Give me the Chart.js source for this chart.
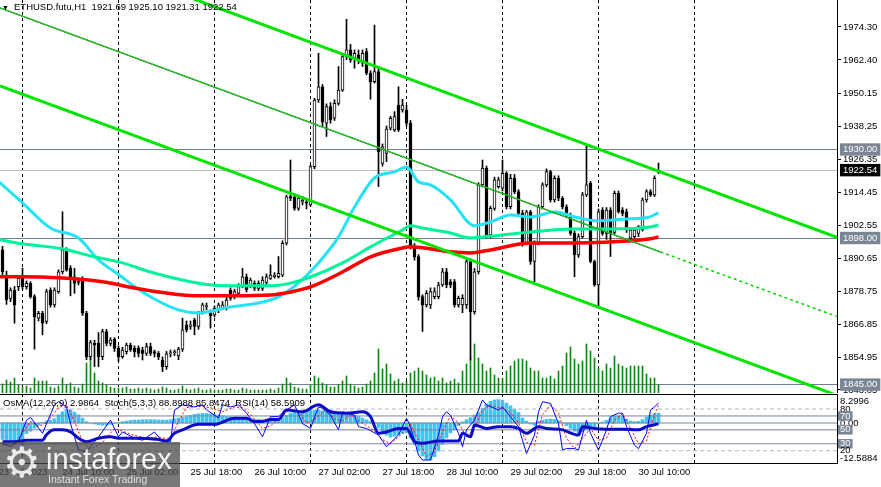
<!DOCTYPE html>
<html>
<head>
<meta charset="utf-8">
<title>ETHUSD.futu H1</title>
<script src="https://cdn.jsdelivr.net/npm/chart.js"></script>
<style>
  html, body { margin:0; padding:0; background:#fff; }
  body { width:881px; height:487px; position:relative; overflow:hidden; font-family:"Liberation Sans", Arial, sans-serif; }
  canvas { position:absolute; left:0; }
  #cMain { top:0; }
  #cInd { top:380px; }
  .txt { position:absolute; font-size:9.5px; color:#000; white-space:pre; line-height:12px; }
  #hdr { left:2px; top:1px; }
  #hdr .tri { font-size:7px; display:inline-block; width:12px; }
  #indHdr { left:3px; top:397px; }
  #wm { position:absolute; left:0; top:442px; width:180px; height:45px; background:rgba(72,72,72,0.74); overflow:hidden; }
  #gear { position:absolute; left:3px; top:-7px; font-family:"DejaVu Sans", sans-serif; font-size:42px; line-height:56px; color:rgba(255,255,255,0.85); }
  #wm1 { position:absolute; left:46px; top:1px; font-size:29px; line-height:32px; color:rgba(255,255,255,0.92); white-space:nowrap; }
  #wm2 { position:absolute; left:48px; top:31px; font-size:10.5px; line-height:12px; color:rgba(235,235,235,0.9); white-space:nowrap; }
</style>
</head>
<body>
<canvas id="cMain" width="881" height="393"></canvas>
<canvas id="cInd" width="881" height="107"></canvas>
<div id="hdr" class="txt"><span class="tri">▼</span>ETHUSD.futu,H1  1921.69 1925.10 1921.31 1922.54</div>
<div id="indHdr" class="txt">OsMA(12,26,9) 2.9864  Stoch(5,3,3) 88.8988 85.8474  RSI(14) 58.5909</div>
<div id="wm"><div id="gear">⚙</div><div id="wm1">instaforex</div><div id="wm2">Instant Forex Trading</div></div>
<script>
// ---------------- DATA ----------------
// hours counted from 24 Jul 2023 00:00; first visible H1 bar = 23 Jul 19:00
const firstBarHour = -5;

const opens = [
  1893.7,1884.0,1876.2,1879.2,1880.4,1884.6,1880.4,1881.6,1876.8,1869.0,
  1870.8,1867.8,1879.2,1873.8,1878.6,1885.8,1893.9,1887.0,1884.0,1882.2,
  1883.4,1870.8,1855.1,1859.9,1859.9,1855.1,1864.2,1859.9,1861.4,1858.1,
  1855.1,1856.9,1859.3,1858.1,1858.1,1857.5,1856.3,1858.7,1856.9,1856.3,
  1853.9,1851.5,1856.1,1856.5,1855.4,1857.8,1866.6,1866.0,1868.4,1866.0,
  1871.4,1873.2,1870.8,1870.2,1872.0,1872.6,1872.6,1879.2,1876.8,1878.0,
  1880.4,1884.0,1880.4,1881.6,1879.8,1879.8,1881.9,1883.4,1884.0,1884.0,
  1884.6,1896.1,1913.0,1912.9,1908.7,1911.1,1910.8,1910.0,1923.8,1947.9,
  1952.7,1939.5,1945.5,1941.3,1946.7,1951.5,1963.6,1966.0,1963.0,1964.2,
  1961.2,1965.4,1957.6,1954.5,1958.2,1925.0,1928.6,1937.7,1937.1,1946.1,
  1944.3,1944.3,1939.5,1894.9,1891.3,1876.8,1873.8,1873.8,1876.8,1876.8,
  1881.0,1885.8,1882.2,1882.2,1873.8,1873.8,1873.8,1889.5,1871.4,1885.8,
  1917.2,1923.2,1899.1,1908.7,1916.6,1916.0,1921.4,1909.3,1919.6,1914.8,
  1906.9,1896.1,1907.5,1889.5,1896.1,1909.3,1917.2,1922.0,1911.8,1919.6,
  1912.4,1909.3,1906.3,1899.7,1891.9,1898.5,1913.6,1917.8,1889.5,1881.0,
  1908.1,1899.7,1908.1,1900.0,1914.2,1908.1,1907.5,1897.9,1898.5,1899.7,
  1900.9,1911.8,1914.8,1913.6,1921.69
];
const highs = [
  1895.0,1886.0,1880.0,1880.5,1884.5,1887.1,1882.5,1882.2,1877.5,1871.5,
  1871.5,1879.5,1880.0,1880.0,1886.5,1907.5,1894.5,1888.0,1887.0,1883.0,
  1884.0,1871.5,1861.0,1861.0,1863.8,1865.0,1865.0,1862.0,1862.0,1859.0,
  1858.5,1860.0,1860.0,1859.0,1859.0,1858.5,1860.0,1860.0,1857.5,1857.0,
  1855.0,1857.0,1857.5,1857.5,1858.5,1869.0,1868.0,1868.0,1869.0,1871.5,
  1874.5,1874.5,1872.0,1873.5,1874.5,1875.0,1876.5,1880.0,1879.5,1881.5,
  1887.0,1885.0,1883.5,1882.5,1882.5,1884.0,1885.0,1888.3,1885.5,1891.3,
  1897.0,1913.5,1926.2,1914.0,1913.5,1913.0,1912.0,1924.5,1948.5,1964.8,
  1953.5,1946.5,1947.0,1948.0,1960.0,1964.5,1977.1,1968.0,1966.0,1966.0,
  1966.0,1966.5,1958.5,1975.0,1959.0,1932.0,1938.5,1942.0,1943.7,1952.7,
  1948.2,1946.0,1940.5,1896.0,1892.0,1877.5,1879.0,1880.0,1880.0,1882.0,
  1887.0,1887.0,1883.0,1883.0,1877.0,1877.5,1890.5,1890.5,1887.0,1918.0,
  1926.2,1924.0,1909.5,1920.0,1920.0,1926.2,1922.0,1921.0,1921.0,1915.5,
  1908.0,1908.0,1908.0,1897.0,1910.0,1918.0,1923.0,1922.5,1920.5,1920.5,
  1913.0,1910.0,1907.0,1900.5,1899.5,1914.5,1931.6,1918.5,1890.0,1908.5,
  1909.0,1909.0,1909.0,1915.0,1915.0,1909.0,1908.5,1901.5,1901.5,1902.5,
  1912.5,1915.5,1915.5,1920.5,1925.10
];
const lows = [
  1884.0,1874.0,1875.0,1867.2,1879.0,1879.5,1879.5,1876.2,1857.8,1868.0,
  1863.0,1867.0,1873.0,1873.0,1878.0,1885.0,1886.0,1877.1,1878.0,1881.0,
  1870.0,1854.0,1854.0,1851.5,1851.5,1854.0,1859.0,1859.0,1857.0,1853.5,
  1854.5,1856.0,1857.0,1855.0,1855.0,1853.9,1855.5,1855.5,1855.0,1854.0,
  1849.7,1850.5,1855.0,1855.5,1854.0,1857.0,1864.0,1865.0,1863.0,1865.0,
  1870.5,1872.0,1865.4,1869.5,1871.0,1872.0,1872.0,1875.5,1876.0,1877.5,
  1880.0,1878.5,1880.0,1879.0,1879.0,1879.0,1881.0,1883.0,1883.5,1883.5,
  1884.0,1895.5,1911.5,1908.0,1908.0,1910.0,1908.5,1909.5,1923.0,1947.0,
  1938.3,1934.7,1939.5,1940.5,1946.0,1951.0,1962.5,1961.5,1959.4,1961.0,
  1960.0,1957.0,1948.2,1954.0,1916.6,1924.0,1925.6,1937.0,1936.5,1936.5,
  1943.5,1938.5,1894.0,1890.0,1875.5,1864.2,1873.0,1872.5,1876.0,1876.0,
  1880.5,1880.0,1880.0,1873.0,1873.0,1871.0,1872.5,1853.9,1870.5,1885.0,
  1916.5,1898.0,1898.0,1908.0,1916.0,1915.0,1908.5,1908.5,1914.0,1906.0,
  1895.0,1895.5,1888.5,1882.2,1895.5,1908.5,1916.5,1911.0,1911.0,1911.5,
  1908.5,1905.5,1899.0,1884.0,1891.0,1898.0,1913.0,1889.0,1880.5,1873.2,
  1899.0,1897.5,1891.3,1899.5,1907.0,1906.0,1900.0,1897.0,1898.0,1898.5,
  1900.5,1911.0,1913.0,1913.0,1921.31
];
const closes = [
  1885.8,1875.6,1879.2,1873.8,1883.4,1880.4,1881.6,1876.8,1869.6,1870.8,
  1867.2,1878.6,1873.8,1879.2,1885.8,1893.7,1886.4,1884.0,1881.6,1881.9,
  1870.8,1855.1,1860.2,1859.3,1855.1,1864.2,1859.9,1861.1,1858.1,1855.1,
  1857.5,1859.3,1857.5,1856.9,1856.3,1856.3,1858.7,1856.3,1856.3,1855.1,
  1851.5,1856.1,1856.5,1856.9,1857.8,1864.8,1864.8,1866.6,1866.0,1870.8,
  1873.8,1873.6,1869.8,1872.6,1873.8,1873.8,1875.6,1876.2,1878.6,1880.4,
  1884.0,1879.2,1882.8,1879.8,1881.6,1882.8,1884.0,1884.6,1884.6,1885.2,
  1896.1,1912.9,1912.4,1908.7,1912.4,1911.6,1910.6,1923.8,1947.9,1952.7,
  1940.1,1945.5,1940.7,1946.7,1951.5,1963.6,1966.0,1962.4,1964.8,1962.4,
  1964.8,1957.6,1954.5,1958.2,1929.2,1931.0,1937.4,1941.3,1941.9,1937.1,
  1946.1,1939.5,1894.9,1891.2,1876.8,1873.8,1878.0,1878.6,1878.6,1881.0,
  1885.8,1881.0,1881.0,1873.8,1876.2,1876.2,1889.5,1871.4,1885.8,1917.2,
  1923.2,1899.1,1908.7,1919.0,1919.0,1921.4,1909.3,1919.6,1914.8,1906.9,
  1896.1,1907.5,1889.5,1896.1,1909.3,1917.2,1922.0,1911.8,1919.6,1912.4,
  1909.3,1906.3,1899.7,1891.9,1898.5,1913.6,1917.2,1889.5,1881.0,1907.5,
  1899.7,1908.1,1899.7,1914.2,1907.5,1906.9,1900.9,1900.9,1900.9,1902.1,
  1911.8,1914.8,1913.6,1919.6,1922.54
];
const volumes = [
  225,325,275,375,200,150,175,125,375,300,
  300,300,150,125,175,375,200,250,150,125,
  225,750,875,500,300,250,200,150,125,125,
  125,150,100,100,125,100,125,100,75,100,
  150,125,75,75,100,175,100,75,100,125,
  75,75,100,75,75,75,100,100,75,75,
  125,100,75,75,75,75,75,100,75,125,
  225,375,250,150,125,100,100,200,425,375,
  250,200,150,150,200,300,425,225,175,125,
  150,225,300,500,1100,600,725,475,300,350,
  250,300,500,550,625,550,450,375,400,300,
  375,250,300,350,250,550,725,875,1225,875,
  725,550,625,450,375,350,550,675,800,850,
  850,800,625,550,550,375,375,425,350,550,
  675,1000,1150,850,725,800,1225,1050,875,600,
  550,725,625,925,725,675,625,675,675,675,
  675,475,375,375,200
];
const osma = [
  -5.0,-5.6,-5.8,-5.6,-5.3,-5.0,-3.2,-2.5,-1.6,-0.6,
  0.2,0.6,0.9,1.3,2.5,3.4,4.1,4.0,3.3,2.5,
  1.5,0.4,0.0,-0.3,-0.5,-0.7,-0.6,-0.4,-0.1,0.1,
  0.4,0.6,0.8,0.9,0.9,1.0,1.0,1.0,1.0,0.9,
  0.9,0.9,1.0,1.3,1.5,1.7,1.9,2.3,2.6,2.8,
  2.9,2.9,2.8,2.6,2.4,2.2,2.0,1.9,1.8,1.7,
  1.6,1.5,1.3,1.2,1.1,1.0,1.0,1.0,1.1,1.2,
  1.6,2.3,3.0,3.3,3.4,3.5,3.6,3.8,3.9,4.0,
  3.7,3.4,3.2,3.0,3.0,3.0,3.0,2.8,2.4,2.0,
  1.5,1.0,0.5,0.0,-1.5,-2.8,-3.7,-4.3,-4.0,-3.6,
  -3.2,-2.9,-4.5,-6.5,-8.5,-10.0,-11.0,-11.2,-10.2,-8.5,
  -6.5,-4.5,-3.0,-2.0,-0.8,0.3,1.0,1.6,2.4,3.2,
  4.5,5.8,6.6,7.0,7.1,6.8,6.0,5.2,4.2,3.2,
  1.5,0.6,-0.3,-0.7,0.5,0.9,1.1,1.2,1.1,0.7,
  -0.1,-0.8,-1.6,-2.5,-3.0,-2.6,-2.0,-1.6,-1.5,-0.2,
  0.3,0.8,1.5,2.0,2.2,2.0,1.2,0.6,0.4,0.5,
  1.0,1.8,2.4,2.8,2.9864
];

// moving averages read at key bars [hour, price]
const maSlow = [[-6,1884.0],[0,1884.0],[10,1883.5],[20,1882.2],[28,1879.9],[35,1878.3],[44,1877.1],[52,1877.1],[62,1877.4],[67,1878.5],[72,1880.3],[80,1885.7],[87,1891.2],[95,1894.4],[97,1894.8],[107,1893.0],[112,1892.6],[117,1893.7],[127,1896.2],[137,1896.2],[147,1896.6],[157,1897.7],[159,1898.4]];
const maMid = [[-6,1897.5],[0,1895.9],[10,1894.1],[17,1891.5],[25,1889.0],[32,1885.7],[40,1882.8],[45,1881.4],[52,1880.7],[62,1880.7],[67,1881.7],[72,1883.9],[80,1889.0],[87,1894.8],[95,1900.9],[97,1902.4],[100,1901.6],[107,1899.8],[112,1898.0],[117,1898.7],[127,1900.2],[137,1901.3],[147,1901.3],[157,1902.0],[159,1902.7]];
const maFast = [[-6,1918.5],[0,1910.7],[7,1901.6],[14,1898.0],[19,1890.1],[24,1884.8],[30,1878.5],[39,1872.0],[44,1870.9],[52,1873.1],[59,1874.5],[64,1876.7],[69,1881.8],[74,1889.0],[79,1898.4],[83,1909.2],[88,1919.7],[93,1921.9],[96,1923.7],[99,1918.3],[102,1917.2],[107,1911.8],[113,1902.4],[117,1903.8],[122,1906.3],[127,1905.6],[133,1907.4],[139,1905.3],[144,1904.2],[151,1904.9],[156,1905.3],[159,1907.1]];

// trend lines: anchor points [hour, price]
const upperChannel = [[40,1985.95],[204,1898.0]];
const lowerChannel = [[-5.6,1953.0],[204,1840.9]];
const midLine = [[-5.6,1981.2],[159.5,1892.96]];
const midLineExt = [[159.5,1892.96],[204,1869.4]];

// horizontal price levels
const levelPrices = [1930.00, 1922.54, 1898.00, 1845.00];
const levelLineColors = ['#6f7f90', '#c0c0c0', '#6f7f90', '#6f7f90'];
const levelBoxColors = ['#7b8694', '#000000', '#7b8694', '#7b8694'];

// price axis tick labels
const priceTickLabels = ['1974.30','1962.40','1950.15','1938.25','1926.35','1914.45','1902.55','1890.65','1878.75','1866.85','1854.95','1843.05'];

// time axis
const timeLabels = ['23 Jul 2023','24 Jul 10:00','25 Jul 02:00','25 Jul 18:00','26 Jul 10:00','27 Jul 02:00','27 Jul 18:00','28 Jul 10:00','29 Jul 02:00','29 Jul 18:00','30 Jul 10:00'];
const timeLabelHours = [-6,10,26,42,58,74,90,106,122,138,154];
const dayStartHours = [0,24,48,72,96,120,144,168];

// oscillators [hour, value]
const stochMain = [[-5,30.6],[-3,26],[-1,33],[1,64],[2,68],[5,45],[8,86],[9,90.5],[11,83],[12,59],[14,21],[16,18.6],[19,40],[22,64],[24,40],[25,47],[28,38],[30,35],[33,47],[35,33],[37,33],[38,78.6],[40,86],[43,83],[45,86],[46,79],[49,67],[50,86],[52,83],[54,86],[56,74],[58,59],[60,40],[62,69],[64,69],[66,78.6],[68,86],[70,59],[72,52],[74,83],[75,81],[77,71],[79,50],[80,76],[83,71],[84,54.6],[86,52],[89,42.6],[91,25.8],[94,42.6],[96,66.6],[97,54.6],[99,13.8],[100,6.6],[102,6.6],[104,42.6],[105,69],[106,76],[107,71],[109,45],[110,25.8],[111,50],[113,64],[114,78.6],[115,93],[116,86],[119,78.6],[120,83],[122,69],[124,54.6],[125,35],[126,16],[128,42.6],[129,76],[130,90.5],[132,88],[134,59],[135,21],[136,23],[138,23],[139,21],[141,64],[142,45],[144,21],[146,50],[147,69],[149,74],[150,74],[151,54.6],[153,28],[154,23],[156,45],[157,78.6],[158,83],[159,88.8988]];
const stochSignal = [[-5,28],[-2,28],[0,45],[2,62],[4,55],[6,60],[9,82],[11,86],[13,62],[15,33],[17,22],[20,32],[23,52],[25,48],[28,42],[31,38],[34,40],[37,36],[39,62],[41,82],[44,84],[47,82],[50,76],[53,83],[55,82],[57,72],[60,52],[62,56],[65,70],[67,80],[69,76],[71,60],[73,65],[76,80],[78,66],[80,63],[82,72],[85,60],[88,48],[90,36],[92,30],[95,45],[97,58],[99,35],[101,12],[103,18],[105,48],[107,70],[109,60],[111,40],[113,52],[115,78],[117,86],[120,80],[122,75],[124,60],[126,32],[128,28],[130,72],[132,86],[134,74],[136,38],[138,23],[140,38],[142,52],[144,35],[146,38],[148,64],[150,73],[152,52],[154,30],[156,34],[158,72],[159,85.8474]];
const rsi = [[-5,33],[-2,33],[1,35],[5,35],[6,43],[8,50],[10,50],[12,47],[14,38],[16,33],[19,38],[22,40],[24,38],[29,38],[34,36],[36,34],[38,45],[40,50],[44,58],[48,58],[53,66.6],[56,66.6],[58,62],[60,62],[62,65],[64,65],[66,78.6],[70,76],[74,86],[77,76],[81,74],[85,76],[87,69],[89,45],[91,47],[94,52],[96,52],[98,33],[100,30.6],[104,34],[109,34],[110,45],[112,40],[113,57],[116,52],[119,54.6],[122,54.6],[124,52],[126,45],[129,54.6],[131,52],[135,50],[139,42.6],[140,54.6],[143,52],[146,51],[150,51],[154,50],[156,54.6],[159,58.5909]];

const stochLevels = [80, 70, 50, 30, 20];
const stochLevelBoxed = [false, true, true, true, false];
const osmaTickValues = [8.2996, 0, -12.5884];
const osmaTickText = [['', '8.2996'], '0.00', ['-12.5884', '']];

// ---------------- VIEW ----------------
const FONT = "'Liberation Sans', Arial, sans-serif";
Chart.defaults.font.family = FONT;
Chart.defaults.font.size = 9.5;
Chart.defaults.color = '#000';
Chart.defaults.animation = false;
Chart.defaults.elements.point.radius = 0;
Chart.defaults.elements.line.fill = false;

const hourMin = -5.625, hourMax = 203.625;
const priceMin = 1841.96, priceMax = 1984.06;
const volMax = 9825;
const stochMin = 2.3, stochMax = 101.6;
const osmaMin = -12.12, osmaMax = 8.79;
const CLEAR = 'rgba(0,0,0,0)';

const barX = opens.map((_, i) => firstBarHour + i);
const pts = arr => arr.map(([x, y]) => ({x, y}));
const wickData = barX.map((x, i) => ({x, y: [lows[i], highs[i]]}));
const bodyData = barX.map((x, i) => ({x, y: [opens[i], closes[i]]}));
const bodyColors = opens.map((o, i) => closes[i] >= o ? '#ffffff' : '#000000');
const volData = barX.map((x, i) => ({x, y: volumes[i]}));
const osmaData = barX.map((x, i) => ({x, y: osma[i]}));
const hLine = (v) => [{x: hourMin, y: v}, {x: hourMax, y: v}];

const noPad = s => { s.paddingLeft = 0; s.paddingRight = 0; s.paddingTop = 0; s.paddingBottom = 0; };
const lineDs = (data, color, width, order, extra) => Object.assign({
  type: 'line', data, borderColor: color, borderWidth: width, pointRadius: 0, order,
  cubicInterpolationMode: 'monotone'
}, extra || {});

// main price chart
new Chart(document.getElementById('cMain'), {
  type: 'bar',
  data: { datasets: [
    lineDs(pts(upperChannel), '#00e400', 3, 0),
    lineDs(pts(lowerChannel), '#00e400', 3, 0),
    lineDs(pts(midLine), '#22cc22', 1.4, 0),
    lineDs(pts(midLine), '#000000', 1.1, 0),
    lineDs(pts(midLineExt), '#00d800', 1.5, 0, {borderDash: [3, 3]}),
    lineDs(pts(maSlow), '#ff0000', 3.5, 1),
    lineDs(pts(maMid), '#00f39a', 3, 2),
    lineDs(pts(maFast), '#25e3f3', 3, 2),
    { type: 'bar', data: bodyData, backgroundColor: bodyColors, borderColor: '#000', borderWidth: 1,
      borderSkipped: false, barThickness: 3, minBarLength: 1, grouped: false, order: 4 },
    { type: 'bar', data: wickData, backgroundColor: '#000', borderWidth: 0, barThickness: 1, grouped: false, order: 5 },
    { type: 'bar', data: volData, yAxisID: 'yVol', backgroundColor: '#0a8a0a', borderWidth: 0, barThickness: 1, grouped: false, order: 6 }
  ]},
  options: {
    responsive: false, animation: false,
    layout: { padding: 0 },
    plugins: { legend: { display: false }, tooltip: { enabled: false } },
    scales: {
      x: {
        type: 'linear', min: hourMin, max: hourMax, offset: false, bounds: 'data',
        afterBuildTicks: s => { s.ticks = dayStartHours.map(v => ({value: v})); },
        afterFit: s => { noPad(s); s.height = 0; },
        ticks: { display: false },
        grid: { color: '#000', lineWidth: 1, drawTicks: false, offset: false, borderDash: [3, 3] },
        border: { display: false, dash: [3, 3] }
      },
      y: {
        position: 'right', min: priceMin, max: priceMax, bounds: 'data',
        afterBuildTicks: s => { s.ticks = priceTickLabels.map(parseFloat).concat(levelPrices).map(v => ({value: v})); },
        afterFit: s => { noPad(s); s.width = 44; },
        ticks: {
          autoSkip: false, padding: 2,
          callback: (v, i) => i < priceTickLabels.length ? priceTickLabels[i] : levelPrices[i - priceTickLabels.length].toFixed(2),
          color: ctx => ctx.index >= priceTickLabels.length ? '#ffffff' : '#000000',
          showLabelBackdrop: ctx => ctx.index >= priceTickLabels.length,
          backdropColor: ctx => ctx.index >= priceTickLabels.length ? levelBoxColors[ctx.index - priceTickLabels.length] : CLEAR,
          backdropPadding: { x: 3, y: 0.5 }
        },
        grid: {
          color: ctx => ctx.index >= priceTickLabels.length ? levelLineColors[ctx.index - priceTickLabels.length] : CLEAR,
          lineWidth: 1, drawTicks: true, tickLength: 4,
          tickColor: ctx => ctx.index >= priceTickLabels.length ? CLEAR : '#000'
        },
        border: { display: true, color: '#000', width: 1 }
      },
      yVol: { display: false, min: 0, max: volMax, position: 'right', afterFit: s => { noPad(s); s.width = 0; } }
    }
  }
});

// indicator window: OsMA labels are placed on the oscillator axis at the height of their OsMA value
const osmaAsStoch = v => stochMin + (v - osmaMin) / (osmaMax - osmaMin) * (stochMax - stochMin);
const indTickValues = osmaTickValues.map(osmaAsStoch).concat(stochLevels);
const indTickText = osmaTickText.concat(stochLevels.map(String));
const indBoxed = osmaTickValues.map(() => false).concat(stochLevelBoxed);

const allTimeTicks = timeLabelHours.concat(dayStartHours).sort((a, b) => a - b);
const levelDatasets = stochLevels.map((v, i) => lineDs(hLine(v), stochLevelBoxed[i] ? '#7b8694' : '#b8b8b8', 1, 3,
  { yAxisID: 'yS', borderDash: stochLevelBoxed[i] ? [] : [4, 3], cubicInterpolationMode: 'default', tension: 0 }));

new Chart(document.getElementById('cInd'), {
  type: 'bar',
  data: { datasets: [
    lineDs(pts(rsi), '#0c0cc8', 3, 0, { yAxisID: 'yS' }),
    lineDs(pts(stochMain), '#0000ff', 1, 1, { yAxisID: 'yS', cubicInterpolationMode: 'default', tension: 0 }),
    lineDs(pts(stochSignal), '#ff0000', 1, 2, { yAxisID: 'yS', borderDash: [2, 2], cubicInterpolationMode: 'default', tension: 0 }),
    ...levelDatasets,
    lineDs(hLine(0), '#7b8694', 1, 3, { yAxisID: 'yO', tension: 0 }),
    { type: 'bar', data: osmaData, yAxisID: 'yO', backgroundColor: '#41c3f3', borderWidth: 0, barThickness: 3, grouped: false, order: 5 }
  ]},
  options: {
    responsive: false, animation: false,
    layout: { padding: { top: 14, left: 0, right: 0, bottom: 0 } },
    plugins: { legend: { display: false }, tooltip: { enabled: false } },
    scales: {
      x: {
        type: 'linear', position: 'bottom', min: hourMin, max: hourMax, offset: false, bounds: 'data',
        afterBuildTicks: s => { s.ticks = allTimeTicks.map(v => ({value: v})); },
        afterFit: s => { noPad(s); s.height = 24; },
        ticks: {
          autoSkip: false, maxRotation: 0, minRotation: 0, align: 'start', padding: 4,
          callback: v => { const k = timeLabelHours.indexOf(v); return k >= 0 ? timeLabels[k] : ''; }
        },
        grid: { color: ctx => (ctx.tick && dayStartHours.includes(ctx.tick.value)) ? '#000' : CLEAR,
                lineWidth: 1, drawTicks: false, offset: false, borderDash: [3, 3] },
        border: { display: true, color: '#000', width: 1, dash: [3, 3] }
      },
      xTop: {
        type: 'linear', position: 'top', min: hourMin, max: hourMax, offset: false,
        afterFit: s => { noPad(s); s.height = 0; },
        ticks: { display: false },
        grid: { display: false, drawTicks: false },
        border: { display: true, color: '#000', width: 1 }
      },
      yO: { display: false, position: 'right', min: osmaMin, max: osmaMax, afterFit: s => { noPad(s); s.width = 0; } },
      yS: {
        position: 'right', min: stochMin, max: stochMax, bounds: 'data',
        afterBuildTicks: s => { s.ticks = indTickValues.map(v => ({value: v})); },
        afterFit: s => { noPad(s); s.width = 44; },
        ticks: {
          autoSkip: false, padding: 3,
          callback: (v, i) => indTickText[i],
          color: ctx => indBoxed[ctx.index] ? '#ffffff' : '#000000',
          showLabelBackdrop: ctx => indBoxed[ctx.index],
          backdropColor: ctx => indBoxed[ctx.index] ? '#7b8694' : CLEAR,
          backdropPadding: { x: 2, y: -1 }
        },
        grid: { display: false, drawTicks: false },
        border: { display: true, color: '#000', width: 1 }
      }
    }
  }
});
</script>
</body>
</html>
